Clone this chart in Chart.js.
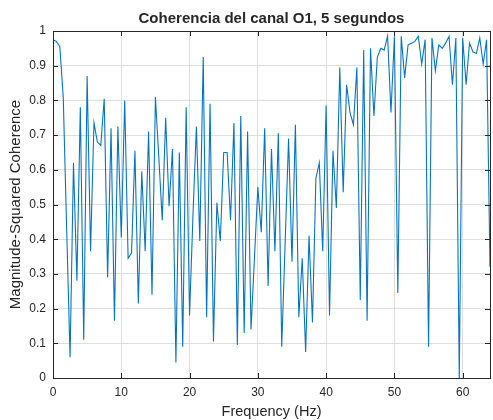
<!DOCTYPE html>
<html>
<head>
<meta charset="utf-8">
<script src="https://cdn.jsdelivr.net/npm/chart.js@4.4.1/dist/chart.umd.min.js"></script>
<style>
  html, body { margin: 0; padding: 0; background: #ffffff; }
  #wrap { width: 493px; height: 420px; }
</style>
</head>
<body>
<div id="wrap"><canvas id="c" width="493" height="420"></canvas></div>
<script>
// ---- data ----
const chartTitle = 'Coherencia del canal O1, 5 segundos';
const xLabel = 'Frequency (Hz)';
const yLabel = 'Magnitude-Squared Coherence';

const frequencies = [
  0, 0.5, 1, 1.5, 2, 2.5, 3, 3.5, 4, 4.5, 5, 5.5, 6, 6.5, 7, 7.5, 8, 8.5, 9, 9.5,
  10, 10.5, 11, 11.5, 12, 12.5, 13, 13.5, 14, 14.5, 15, 15.5, 16, 16.5, 17, 17.5, 18, 18.5, 19, 19.5,
  20, 20.5, 21, 21.5, 22, 22.5, 23, 23.5, 24, 24.5, 25, 25.5, 26, 26.5, 27, 27.5, 28, 28.5, 29, 29.5,
  30, 30.5, 31, 31.5, 32, 32.5, 33, 33.5, 34, 34.5, 35, 35.5, 36, 36.5, 37, 37.5, 38, 38.5, 39, 39.5,
  40, 40.5, 41, 41.5, 42, 42.5, 43, 43.5, 44, 44.5, 45, 45.5, 46, 46.5, 47, 47.5, 48, 48.5, 49, 49.5,
  50, 50.5, 51, 51.5, 52, 52.5, 53, 53.5, 54, 54.5, 55, 55.5, 56, 56.5, 57, 57.5, 58, 58.5, 59, 59.5,
  60, 60.5, 61, 61.5, 62, 62.5, 63, 63.5, 64
];

const coherence = [
  0.975, 0.97, 0.955, 0.81, 0.43, 0.06, 0.62, 0.28, 0.78, 0.11, 0.87, 0.365, 0.735, 0.68, 0.67, 0.805, 0.29, 0.72, 0.165, 0.725,
  0.405, 0.80, 0.345, 0.36, 0.655, 0.215, 0.595, 0.365, 0.71, 0.24, 0.81, 0.635, 0.455, 0.75, 0.495, 0.66, 0.045, 0.65, 0.09, 0.78,
  0.18, 0.47, 0.725, 0.395, 0.925, 0.175, 0.79, 0.105, 0.505, 0.395, 0.65, 0.65, 0.455, 0.735, 0.095, 0.755, 0.13, 0.71, 0.14, 0.345,
  0.55, 0.42, 0.72, 0.265, 0.66, 0.365, 0.705, 0.09, 0.39, 0.69, 0.335, 0.73, 0.175, 0.345, 0.075, 0.41, 0.16, 0.575, 0.62, 0.365,
  0.785, 0.18, 0.655, 0.49, 0.895, 0.535, 0.845, 0.765, 0.73, 0.895, 0.225, 0.945, 0.165, 0.95, 0.755, 0.925, 0.95, 0.945, 0.985, 0.765,
  0.985, 0.245, 0.985, 0.865, 0.96, 0.965, 0.97, 0.985, 0.905, 0.975, 0.09, 0.98, 0.885, 0.96, 0.95, 0.965, 0.985, 0.845, 0.98, 0.0,
  0.98, 0.845, 0.965, 0.94, 0.935, 0.98, 0.905, 0.975, 0.32
];

const xTickValues = [0, 10, 20, 30, 40, 50, 60];
const yTickValues = [0, 0.1, 0.2, 0.3, 0.4, 0.5, 0.6, 0.7, 0.8, 0.9, 1];

// ---- styling ----
const FONT = '"Liberation Sans", Arial, Helvetica, sans-serif';
const TEXT = '#262626';
const AXIS = '#262626';
const GRID = '#dedede';
const LINE = '#0a74bb';
const TICK_LEN = 5;

const points = frequencies.map((f, i) => ({ x: f, y: coherence[i] }));

const matlabFrame = {
  id: 'matlabFrame',
  afterDatasetsDraw(chart) {
    const { ctx, chartArea: a, scales } = chart;
    ctx.save();
    ctx.strokeStyle = AXIS;
    ctx.lineWidth = 1;
    // ticks (inward, all four sides)
    ctx.beginPath();
    xTickValues.forEach(v => {
      const px = Math.round(scales.x.getPixelForValue(v)) + 0.5;
      ctx.moveTo(px, a.bottom); ctx.lineTo(px, a.bottom - TICK_LEN);
      ctx.moveTo(px, a.top); ctx.lineTo(px, a.top + TICK_LEN);
    });
    yTickValues.forEach(v => {
      const py = Math.round(scales.y.getPixelForValue(v)) + 0.5;
      ctx.moveTo(a.left, py); ctx.lineTo(a.left + TICK_LEN, py);
      ctx.moveTo(a.right, py); ctx.lineTo(a.right - TICK_LEN, py);
    });
    ctx.stroke();
    // box
    ctx.strokeRect(Math.round(a.left) + 0.5, Math.round(a.top) + 0.5,
                   Math.round(a.right - a.left), Math.round(a.bottom - a.top));
    // title and axis labels
    const cx = (a.left + a.right) / 2;
    const cy = (a.top + a.bottom) / 2;
    ctx.fillStyle = TEXT;
    ctx.textAlign = 'center';
    ctx.textBaseline = 'middle';
    ctx.font = 'bold 15px ' + FONT;
    ctx.fillText(chartTitle, cx, 19);
    ctx.font = '14.5px ' + FONT;
    ctx.fillText(xLabel, cx, 412);
    ctx.save();
    ctx.font = '15px ' + FONT;
    ctx.translate(16, cy);
    ctx.rotate(-Math.PI / 2);
    ctx.fillText(yLabel, 0, 0);
    ctx.restore();
    ctx.restore();
  }
};

new Chart(document.getElementById('c'), {
  type: 'line',
  data: {
    datasets: [{
      data: points,
      borderColor: LINE,
      borderWidth: 1.1,
      pointRadius: 0,
      tension: 0,
      fill: false
    }]
  },
  options: {
    responsive: false,
    animation: false,
    events: [],
    layout: { padding: { left: 0, right: 3, top: 31, bottom: 0 } },
    plugins: { legend: { display: false }, tooltip: { enabled: false }, title: { display: false } },
    scales: {
      x: {
        type: 'linear',
        min: 0, max: 64,
        afterBuildTicks(scale) { scale.ticks = xTickValues.map(v => ({ value: v })); },
        afterFit(scale) { scale.height = 42; },
        grid: { color: GRID, drawTicks: false },
        border: { display: false },
        ticks: {
          color: TEXT, padding: 7, maxRotation: 0,
          font: { family: FONT, size: 12 },
          callback: v => String(v)
        }
      },
      y: {
        type: 'linear',
        min: 0, max: 1,
        afterBuildTicks(scale) { scale.ticks = yTickValues.map(v => ({ value: v })); },
        afterFit(scale) { scale.width = 53; },
        grid: { color: GRID, drawTicks: false },
        border: { display: false },
        ticks: {
          color: TEXT, padding: 7,
          font: { family: FONT, size: 12 },
          callback: v => { const r = Math.round(v * 10) / 10; return String(r); }
        }
      }
    }
  },
  plugins: [matlabFrame]
});
</script>
</body>
</html>
